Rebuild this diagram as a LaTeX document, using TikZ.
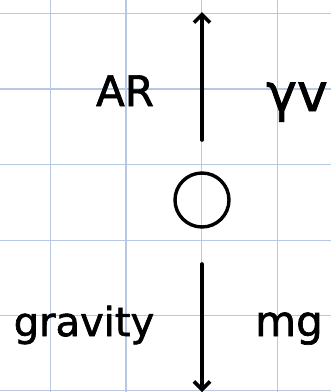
\documentclass[tikz,border=0pt]{standalone}
\usepackage{fontspec}
\setmainfont{DejaVu Sans}[FakeBold=1.6]
\usetikzlibrary{arrows.meta}
\definecolor{gridblue}{RGB}{182,200,228}
\begin{document}
\begin{tikzpicture}[x=1pt,y=-1pt,
  gridline/.style={draw=gridblue,line width=1.3pt},
  force/.style={line width=3.6pt,line cap=round,-{Straight Barb[length=8pt,width=16pt,line width=3.6pt]}},
  lbl/.style={anchor=base,inner sep=0pt,font=\fontsize{42}{48}\selectfont},
  ball/.style={circle,draw,line width=3.4pt,minimum size=54pt,inner sep=0pt}]
\useasboundingbox (0,0) rectangle (331,392);
\fill[white] (0,0) rectangle (331,392);
% grid
\foreach \gx in {50.3,126,201.7,277.3}
  \draw[gridline] (\gx,0) -- (\gx,392);
\foreach \gy in {13.3,89,164.5,240.2,315.6,390.8}
  \draw[gridline] (0,\gy) -- (331,\gy);
% ball
\node[ball] (ball) at (202,200) {};
% forces
\coordinate (upstart) at (202,140);
\coordinate (uptip) at (202,12);
\coordinate (dnstart) at (202,264);
\coordinate (dntip) at (202,392);
\draw[force] (upstart) -- (uptip);
\draw[force] (dnstart) -- (dntip);
% labels
\node[lbl] (ar) at (125,106) {AR};
\node[lbl,font=\fontsize{52}{56}\selectfont] (gv) at (297,111) {γv};
\node[lbl,font=\fontsize{40}{46}\selectfont] (grav) at (84,336) {gravity};
\node[lbl] (mg) at (289,336) {mg};
\end{tikzpicture}
\end{document}
